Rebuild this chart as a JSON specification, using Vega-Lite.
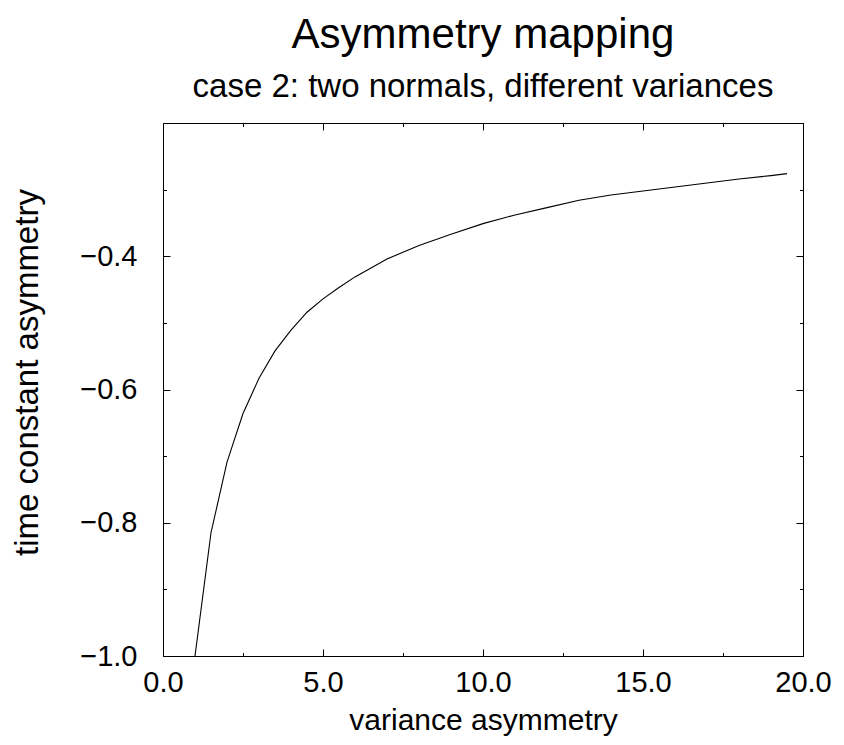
{
  "$schema": "https://vega.github.io/schema/vega-lite/v6.json",
  "width": 640,
  "height": 533,
  "autosize": {"type": "none"},
  "padding": {"left": 163, "top": 123, "right": 41, "bottom": 89},
  "background": "white",
  "title": {
    "text": "Asymmetry mapping",
    "subtitle": "case 2: two normals, different variances",
    "anchor": "middle",
    "font": "Liberation Sans",
    "fontSize": 42,
    "fontWeight": "normal",
    "color": "black",
    "subtitleFont": "Liberation Sans",
    "subtitleFontSize": 33,
    "subtitleColor": "black",
    "subtitlePadding": 14,
    "offset": 18
  },
  "config": {
    "view": {"stroke": "black", "strokeWidth": 1},
    "axis": {
      "labelFont": "Liberation Sans",
      "titleFont": "Liberation Sans",
      "labelColor": "black",
      "titleColor": "black",
      "titleFontWeight": "normal",
      "grid": false,
      "domain": false,
      "tickColor": "black",
      "tickWidth": 1
    }
  },
  "data": {
    "values": [
      {"v": 1.0, "t": -1.0},
      {"v": 1.5, "t": -0.815},
      {"v": 2.0, "t": -0.709},
      {"v": 2.5, "t": -0.636},
      {"v": 3.0, "t": -0.583},
      {"v": 3.5, "t": -0.542},
      {"v": 4.0, "t": -0.511},
      {"v": 4.5, "t": -0.484},
      {"v": 5.0, "t": -0.464},
      {"v": 5.5, "t": -0.447},
      {"v": 6.0, "t": -0.431},
      {"v": 7.0, "t": -0.404},
      {"v": 8.0, "t": -0.384},
      {"v": 9.0, "t": -0.367},
      {"v": 10.0, "t": -0.351},
      {"v": 11.0, "t": -0.338},
      {"v": 12.0, "t": -0.327},
      {"v": 13.0, "t": -0.316},
      {"v": 14.0, "t": -0.308},
      {"v": 15.0, "t": -0.302},
      {"v": 16.0, "t": -0.296},
      {"v": 17.0, "t": -0.290},
      {"v": 18.0, "t": -0.284},
      {"v": 19.0, "t": -0.279},
      {"v": 19.5, "t": -0.276}
    ]
  },
  "layer": [
    {
      "mark": {"type": "line", "color": "black", "strokeWidth": 1.1},
      "encoding": {
        "x": {
          "field": "v", "type": "quantitative",
          "scale": {"domain": [0, 20], "nice": false, "zero": false},
          "axis": {"orient": "bottom", "values": [0, 5, 10, 15, 20], "format": ".1f", "ticks": false,
                   "labelFontSize": 29, "labelPadding": 12, "labelFlush": false,
                   "title": "variance asymmetry", "titleFontSize": 30, "titlePadding": 8}
        },
        "y": {
          "field": "t", "type": "quantitative",
          "scale": {"domain": [-1, -0.2], "nice": false, "zero": false},
          "axis": {"orient": "left", "values": [-1, -0.8, -0.6, -0.4], "format": ".1f", "ticks": false,
                   "labelFontSize": 29, "labelPadding": 26, "labelFlush": false,
                   "title": "time constant asymmetry", "titleFontSize": 33, "titlePadding": 35, "titleY": 249}
        }
      }
    },
    {
      "mark": {"type": "line", "opacity": 0},
      "encoding": {
        "x": {"field": "v", "type": "quantitative",
              "axis": {"orient": "bottom", "values": [0, 5, 10, 15, 20], "labels": false, "title": null, "tickSize": -7}},
        "y": {"field": "t", "type": "quantitative",
              "axis": {"orient": "left", "values": [-1, -0.8, -0.6, -0.4, -0.2], "labels": false, "title": null, "tickSize": -7}}
      }
    },
    {
      "mark": {"type": "line", "opacity": 0},
      "encoding": {
        "x": {"field": "v", "type": "quantitative",
              "axis": {"orient": "bottom", "values": [2.5, 7.5, 12.5, 17.5], "labels": false, "title": null, "tickSize": -3.5}},
        "y": {"field": "t", "type": "quantitative",
              "axis": {"orient": "left", "values": [-0.9, -0.7, -0.5, -0.3], "labels": false, "title": null, "tickSize": -3.5}}
      }
    },
    {
      "mark": {"type": "line", "opacity": 0},
      "encoding": {
        "x": {"field": "v", "type": "quantitative",
              "axis": {"orient": "top", "values": [0, 5, 10, 15, 20], "labels": false, "title": null, "tickSize": -7}},
        "y": {"field": "t", "type": "quantitative",
              "axis": {"orient": "right", "values": [-1, -0.8, -0.6, -0.4, -0.2], "labels": false, "title": null, "tickSize": -7}}
      }
    },
    {
      "mark": {"type": "line", "opacity": 0},
      "encoding": {
        "x": {"field": "v", "type": "quantitative",
              "axis": {"orient": "top", "values": [2.5, 7.5, 12.5, 17.5], "labels": false, "title": null, "tickSize": -3.5}},
        "y": {"field": "t", "type": "quantitative",
              "axis": {"orient": "right", "values": [-0.9, -0.7, -0.5, -0.3], "labels": false, "title": null, "tickSize": -3.5}}
      }
    }
  ],
  "resolve": {"axis": {"x": "independent", "y": "independent"}}
}
